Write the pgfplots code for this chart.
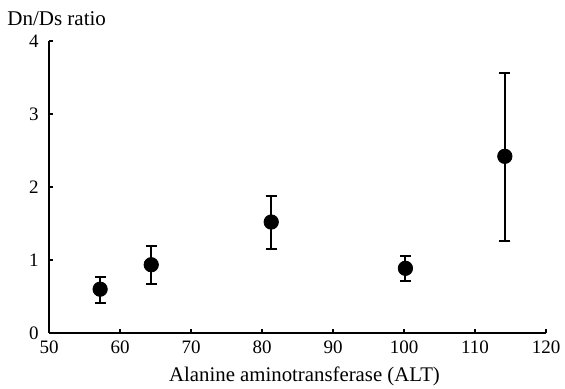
\documentclass[border=0pt]{standalone}
\usepackage{pgfplots}
\pgfplotsset{compat=1.18}
\usepackage{fontspec}
\setmainfont{Liberation Serif}
\begin{document}
\begin{tikzpicture}
\begin{axis}[
  scale only axis,
  width=248.5pt, height=146pt,
  xmin=50, xmax=120, ymin=0, ymax=4,
  axis x line*=bottom, axis y line*=left,
  axis line style={line width=1.4pt},
  xtick={50,60,...,120}, ytick={0,1,2,3,4},
  tick align=inside, major tick length=2pt,
  tick style={line width=1pt, black},
  /pgf/number format/assume math mode=true,
  ticklabel style={font=\fontsize{9.5}{11}\selectfont, inner xsep=0.5pt},
  xticklabel style={yshift=-0.5pt},
  yticklabel style={xshift=-4.5pt},
  xlabel={Alanine aminotransferase (ALT)},
  xlabel style={font=\fontsize{10.4}{12}\selectfont, yshift=-2pt, xshift=3.5pt, inner ysep=1pt},
  clip=false,
]
\addplot[only marks, mark=*, mark size=3.6pt, black,
  error bars/.cd, y dir=both, y explicit,
  error bar style={line width=1pt},
  error mark options={rotate=90, mark size=2.8pt, line width=1.1pt}]
  table[x=x, y=y, y error plus=ep, y error minus=em] {
x y ep em
57.2 0.60 0.17 0.185
64.4 0.935 0.255 0.26
81.3 1.52 0.36 0.37
100.2 0.886 0.174 0.176
114.2 2.42 1.14 1.16
};
\node[anchor=west, font=\fontsize{10.5}{12}\selectfont, inner sep=0pt] at ([xshift=-21pt, yshift=11pt]rel axis cs:0,1) {Dn/Ds ratio};
\path ([xshift=-24.5pt,yshift=-27pt]rel axis cs:0,0) rectangle ([xshift=9.5pt,yshift=20.5pt]rel axis cs:1,1);
\end{axis}
\end{tikzpicture}
\end{document}
